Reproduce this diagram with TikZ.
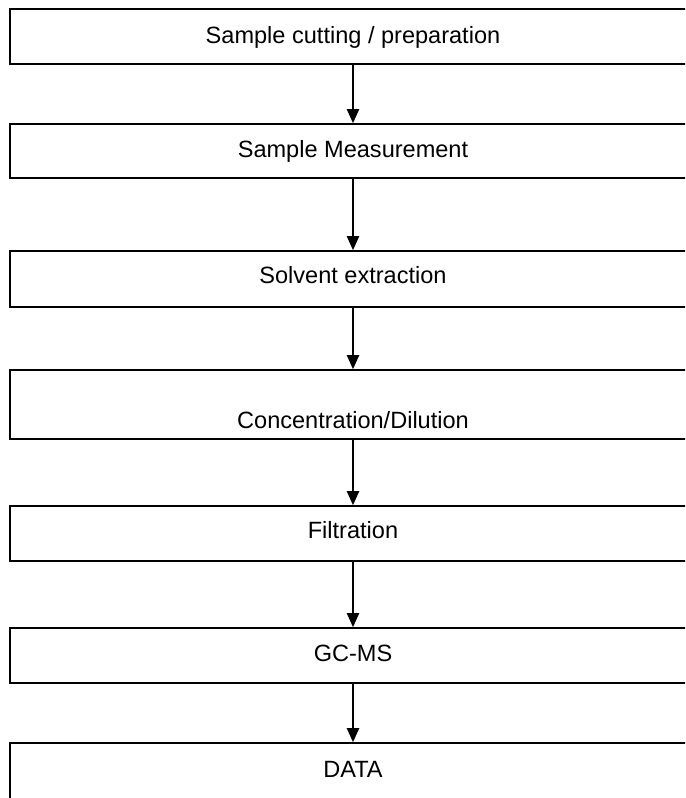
\documentclass[tikz,border=0pt]{standalone}
\usepackage{fontspec}
\setmainfont{Liberation Sans}
\usetikzlibrary{arrows.meta}

\tikzset{
    stepbox/.style={draw, line width=1pt, minimum width=13.72cm, inner ysep=0pt,
        font=\fontsize{13.4}{16}\selectfont},
    flow/.style={line width=0.9pt, -{Triangle[width=7pt,length=8pt]}}
}

\begin{document}
\begin{tikzpicture}
\useasboundingbox (0,0) rectangle (13.7,-15.96);
\clip (0,0) rectangle (13.7,-15.96);

% Steps
\foreach \name/\y/\hgt/\dpt/\txt in {
    cut/-0.73/0.68/0.42/{Sample cutting / preparation},
    measure/-3.02/0.66/0.42/{Sample Measurement},
    extract/-5.58/0.64/0.48/{Solvent extraction},
    conc/-8.09/1.16/0.22/{Concentration/Dilution},
    filter/-10.67/0.64/0.46/{Filtration},
    gcms/-13.11/0.66/0.44/{GC-MS},
    data/-15.73/0.68/1.06/{DATA}
} {
    \node[stepbox, text height=\hgt cm, text depth=\dpt cm] (\name) at (7.06,\y) {\txt};
}

% Arrows
\foreach \from/\to in {cut/measure, measure/extract, extract/conc, conc/filter, filter/gcms, gcms/data} {
    \draw[flow] (\from) -- (\to);
}
\end{tikzpicture}
\end{document}
